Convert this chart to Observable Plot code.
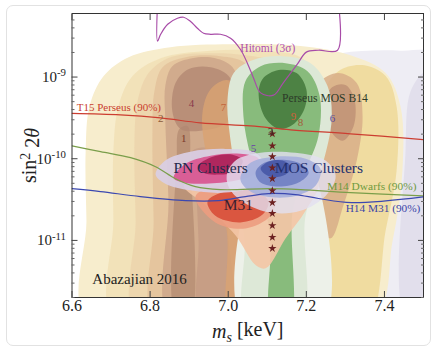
<!DOCTYPE html>
<html><head><meta charset="utf-8">
<script src="https://cdn.jsdelivr.net/npm/d3@7"></script>
<script src="https://cdn.jsdelivr.net/npm/@observablehq/plot@0.6"></script>
<style>
body{margin:0;background:#fff;}
#wrap{position:relative;width:438px;height:351px;overflow:hidden;background:#fff;}
#card{position:absolute;left:6px;top:5px;width:423px;height:339px;border:1px solid #e2e2e2;border-radius:7px;pointer-events:none;}
</style></head><body><div id="wrap"><div id="card"></div></div>
<script>
// ---- contour regions: [m_s (keV), sin^2 2theta] ----
const lavenderOuter = [[7.057,1e-12],[7.057,1.25e-10],[7.088,5.9e-10],[7.160,1.36e-9],[7.288,1.96e-9],[7.441,2.1e-9],[7.543,1.8e-9],[7.543,1e-12]];
const lavenderEdge = [[7.459,1e-12],[7.454,1.25e-10],[7.467,6.7e-10],[7.505,1.18e-9],[7.543,1.25e-9],[7.543,1e-12]];
const yellow1 = [[6.642,1e-12],[6.637,1.75e-11],[6.635,1.25e-10],[6.645,4.4e-10],[6.681,1.03e-9],[6.745,1.75e-9],[6.852,2.32e-9],[7.006,2.52e-9],[7.185,2.4e-9],[7.313,1.85e-9],[7.403,1.12e-9],[7.441,4.4e-10],[7.446,7.1e-11],[7.421,1e-11],[7.364,1e-12]];
const yellow2 = [[6.711,1e-12],[6.706,1.75e-11],[6.706,1.25e-10],[6.719,4.4e-10],[6.755,1.03e-9],[6.827,1.7e-9],[6.955,2.1e-9],[7.083,2.1e-9],[7.185,1.75e-9],[7.231,8.9e-10],[7.231,3.1e-11],[7.185,1e-12]];
const yellowRight = [[7.241,1e-12],[7.236,1.32e-11],[7.231,1.25e-10],[7.241,5.9e-10],[7.282,1.18e-9],[7.344,1.4e-9],[7.403,1.03e-9],[7.431,4.4e-10],[7.431,7.1e-11],[7.403,1.32e-11],[7.356,1e-12]];
const tan3 = [[6.768,1e-12],[6.763,1.75e-11],[6.760,1.66e-10],[6.768,5.1e-10],[6.796,1.12e-9],[6.852,1.75e-9],[6.955,1.96e-9],[7.044,1.85e-9],[7.121,1.48e-9],[7.160,6.7e-10],[7.160,1e-12]];
const tan4 = [[6.814,1e-12],[6.809,1.75e-11],[6.806,2.2e-10],[6.811,6.7e-10],[6.832,1.32e-9],[6.891,1.75e-9],[6.980,1.8e-9],[7.044,1.48e-9],[7.088,6.7e-10],[7.088,1e-12]];
const brown5 = [[6.852,1e-12],[6.847,3.1e-11],[6.839,2.9e-10],[6.839,7.8e-10],[6.857,1.36e-9],[6.908,1.7e-9],[6.967,1.7e-9],[7.011,1.32e-9],[7.031,6.7e-10],[7.039,1.66e-10],[7.039,1e-12]];
const strip1 = [[6.868,1e-12],[6.868,9.5e-11],[6.875,2.32e-10],[6.896,2.5e-10],[6.903,9.5e-11],[6.901,1e-12]];
const brown4 = [[6.857,3.8e-10],[6.865,8.45e-10],[6.898,1.25e-9],[6.955,1.32e-9],[7.001,1.03e-9],[7.019,5.1e-10],[6.996,2.75e-10],[6.929,2.2e-10],[6.878,2.32e-10]];
const brownBand = [[6.929,1e-12],[6.924,1e-11],[6.916,5.4e-11],[6.908,1.25e-10],[6.967,1.25e-10],[7.001,1e-11],[7.006,1e-12]];
const orange7 = [[7.001,1e-12],[6.996,1.32e-11],[6.942,1.25e-10],[6.934,3.64e-10],[6.955,7.1e-10],[6.996,9.2e-10],[7.031,7.1e-10],[7.047,2.9e-10],[7.042,3.1e-11],[7.039,1e-12]];
const tan6 = [[7.200,7.1e-11],[7.203,3.8e-10],[7.231,8.45e-10],[7.282,1.12e-9],[7.329,8.45e-10],[7.344,3.3e-10],[7.329,9.5e-11],[7.295,2.7e-11],[7.262,1.06e-11],[7.231,1.52e-11],[7.208,3.1e-11]];
const brown6 = [[7.249,5.1e-10],[7.267,7.55e-10],[7.300,8.0e-10],[7.323,5.4e-10],[7.321,2.5e-10],[7.293,1.66e-10],[7.262,2.2e-10]];
const perseusBase = [[7.039,1e-12],[7.044,3.1e-11],[7.108,1.25e-10],[7.185,1.25e-10],[7.241,3.1e-11],[7.241,1e-12]];
const perseus3 = [[7.047,1e-12],[7.042,1e-11],[7.026,4.1e-11],[7.006,1.66e-10],[6.998,5.1e-10],[7.014,1.12e-9],[7.062,1.61e-9],[7.139,1.8e-9],[7.211,1.48e-9],[7.254,7.8e-10],[7.265,3.1e-10],[7.241,8.2e-11],[7.198,2.0e-11],[7.185,1e-12]];
const perseus2 = [[7.111,1e-12],[7.108,1e-11],[7.088,3.5e-11],[7.057,1.09e-10],[7.039,3.3e-10],[7.044,8.9e-10],[7.083,1.36e-9],[7.147,1.48e-9],[7.203,1.18e-9],[7.234,5.9e-10],[7.231,1.9e-10],[7.198,7.1e-11],[7.165,2.3e-11],[7.157,1e-12]];
const perseus1 = [[7.078,5.9e-10],[7.088,9.5e-10],[7.129,1.22e-9],[7.175,1.12e-9],[7.200,7.1e-10],[7.195,4.07e-10],[7.165,2.6e-10],[7.129,2.32e-10],[7.096,3.1e-10]];
const m31Outer = [[6.886,4.7e-11],[6.929,6.2e-11],[7.031,7.1e-11],[7.160,6.75e-11],[7.231,5.1e-11],[7.198,2.3e-11],[7.147,1.06e-11],[7.096,4.56e-12],[7.070,5.0e-12],[7.019,1.15e-11],[6.942,2.7e-11]];
const m31Mid = [[6.916,3.44e-11],[6.967,4.56e-11],[7.057,4.56e-11],[7.121,3.5e-11],[7.108,2.0e-11],[7.044,1.4e-11],[6.967,1.66e-11]];
const m31Core = [[6.947,2.99e-11],[6.993,3.96e-11],[7.070,3.96e-11],[7.103,2.99e-11],[7.088,2.07e-11],[7.031,1.66e-11],[6.967,2.0e-11]];
const pnOuter = [[6.814,6.4e-11],[6.839,9.5e-11],[6.903,1.22e-10],[6.993,1.32e-10],[7.070,1.18e-10],[7.096,7.55e-11],[7.070,4.7e-11],[6.993,3.85e-11],[6.903,4.1e-11],[6.839,4.95e-11]];
const pnMid = [[6.860,5.86e-11],[6.891,8.7e-11],[6.955,1.09e-10],[7.031,1.15e-10],[7.078,1.0e-10],[7.070,6.75e-11],[7.019,5.4e-11],[6.942,4.95e-11],[6.886,5.1e-11]];
const pnCore = [[6.924,8.2e-11],[6.960,1.06e-10],[7.011,1.12e-10],[7.037,9.5e-11],[7.021,7.1e-11],[6.975,6.4e-11],[6.937,6.75e-11]];
const mosOuter = [[6.996,6.2e-11],[7.019,9.5e-11],[7.083,1.18e-10],[7.172,1.18e-10],[7.249,9.5e-11],[7.275,6.2e-11],[7.249,3.5e-11],[7.185,2.3e-11],[7.108,2.19e-11],[7.044,2.83e-11],[7.006,4.1e-11]];
const mosMid = [[7.031,5.7e-11],[7.057,8.9e-11],[7.121,1.06e-10],[7.198,1.0e-10],[7.236,7.55e-11],[7.224,4.7e-11],[7.172,3.5e-11],[7.096,3.44e-11],[7.052,4.1e-11]];
const mosInner = [[7.070,6.75e-11],[7.088,8.7e-11],[7.134,9.7e-11],[7.185,8.7e-11],[7.206,6.75e-11],[7.180,5.1e-11],[7.129,4.56e-11],[7.083,5.1e-11]];
const mosCore = [[7.083,7.55e-11],[7.103,9.2e-11],[7.139,9.5e-11],[7.160,7.98e-11],[7.147,6.4e-11],[7.108,6.0e-11]];

// ---- limit lines ----
const t15Mass = [6.6,6.724,6.827,6.929,7.057,7.16,7.313,7.503];
const t15Mix  = [3.59e-10,3.44e-10,3.16e-10,2.75e-10,2.52e-10,2.26e-10,2.02e-10,1.71e-10];
const m14Mass = [6.6,6.673,6.750,6.814,6.865,6.916,6.980,7.108,7.185,7.313,7.503];
const m14Mix  = [1.44e-10,1.22e-10,1.03e-10,7.98e-11,5.7e-11,4.56e-11,4.19e-11,4.3e-11,4.19e-11,3.85e-11,3.5e-11];
const h14Mass = [6.6,6.673,6.775,6.891,6.975,7.044,7.103,7.172,7.231,7.316,7.503];
const h14Mix  = [4.3e-11,3.96e-11,3.44e-11,3.07e-11,3.07e-11,3.44e-11,3.74e-11,3.64e-11,3.26e-11,2.9e-11,3.44e-11];
const hitomiMass = [6.819,6.819,6.827,6.845,6.870,6.886,6.903,6.921,6.937,6.955,6.980,7.006,7.031,7.049,7.065,7.083,7.116,7.141,7.177,7.2,7.231,7.28,7.282];
const hitomiMix  = [8e-9,2.75e-9,3.34e-9,4.43e-9,5.25e-9,5.4e-9,4.82e-9,3.96e-9,3.44e-9,3.34e-9,3.34e-9,2.99e-9,2.19e-9,1.48e-9,9.7e-10,6.4e-10,6.0e-10,8.5e-10,1.44e-9,2.02e-9,2.13e-9,2.13e-9,8e-9];

// ---- stars ----
const starMass = 7.113;
const starMix = [2.02e-10,1.44e-10,1.06e-10,7.76e-11,5.7e-11,4.07e-11,2.9e-11,2.14e-11,1.52e-11,1.09e-11,7.98e-12];

// ---- number labels ----
const numText = ["1","2","4","7","5","6","9","8","3"];
const numMass = [6.886,6.827,6.906,6.988,7.065,7.267,7.167,7.185,7.108];
const numMix  = [1.75e-10,3.1e-10,4.8e-10,4.2e-10,1.32e-10,3.1e-10,3.3e-10,2.75e-10,2.13e-10];

// ---- text labels ----
const textLabels = ["T15 Perseus (90%)","Hitomi (3σ)","Perseus MOS B14","PN Clusters","MOS Clusters","M31","M14 Dwarfs (90%)","H14 M31 (90%)","Abazajian 2016"];
const textMass = [6.612,7.031,7.138,6.955,7.232,7.026,7.482,7.492,6.652];
const textMix  = [4.2e-10,2.26e-9,5.55e-10,7.76e-11,7.76e-11,2.7e-11,4.56e-11,2.46e-11,3.34e-12];

const xTicks = [6.6,6.8,7.0,7.2,7.4];
const yMajor = [1e-11,1e-10,1e-9];
const yMinor = [2e-12,3e-12,4e-12,5e-12,6e-12,7e-12,8e-12,9e-12,2e-11,3e-11,4e-11,5e-11,6e-11,7e-11,8e-11,9e-11,2e-10,3e-10,4e-10,5e-10,6e-10,7e-10,8e-10,9e-10,2e-9,3e-9,4e-9,5e-9];

// ---- marks ----
const X = d => d[0], Y = d => d[1];
const region = (pts, fill, op) => Plot.line(pts, {x: X, y: Y, fill, fillOpacity: op, stroke: "none", curve: "catmull-rom-closed", clip: true});
const zip = (a, b) => a.map((v, i) => [v, b[i]]);
const limit = (m, s, stroke, curve = "catmull-rom") => Plot.line(zip(m, s), {x: X, y: Y, stroke, strokeWidth: 1.2, curve, clip: true});

const numColors = ["#7b3b2b","#8b5a3a","#8a3c4c","#c2643c","#6a3fa8","#5a4a9e","#d0603a","#a35a3a","#3a2a2a"];
const textStyle = [
  {fill:"#c9402f", size:11, anchor:"start"},
  {fill:"#b04fb0", size:11.5, anchor:"start"},
  {fill:"#2c3a28", size:11.6, anchor:"start"},
  {fill:"#232a4a", size:15.5, anchor:"middle"},
  {fill:"#23306e", size:15.5, anchor:"middle"},
  {fill:"#3a2030", size:15.5, anchor:"middle"},
  {fill:"#6e9a3e", size:11.4, anchor:"end"},
  {fill:"#3b46a8", size:11.3, anchor:"end"},
  {fill:"#222222", size:15, anchor:"start"}
];

const marks = [
  region(lavenderOuter, "#eeedf4", 1),
  region(lavenderEdge, "#e2dfec", 1),
  region(yellow1, "#f7edcd", 1),
  region(yellow2, "#f1dfb5", 0.85),
  region(yellowRight, "#eed99b", 0.9),
  region(tan3, "#ecd4ab", 0.85),
  region(tan4, "#e3c29b", 0.85),
  region(brown5, "#cca488", 0.8),
  region(strip1, "#a97f68", 0.55),
  region(brownBand, "#c09680", 0.6),
  region(brown4, "#b08672", 0.75),
  region(orange7, "#d9a272", 0.8),
  region(tan6, "#d8ae88", 0.85),
  region(brown6, "#b98a70", 0.7),
  region(perseusBase, "#edf1e9", 1),
  region(perseus3, "#dde8d7", 1),
  region(perseus2, "#88bb7c", 1),
  region(perseus1, "#4d8244", 1),
  region(m31Outer, "#f3c6a6", 0.92),
  region(m31Mid, "#ec9c80", 0.9),
  region(m31Core, "#d74e38", 0.9),
  region(pnOuter, "#d9cee5", 0.92),
  region(pnMid, "#d9558f", 0.92),
  region(pnCore, "#a81d55", 0.85),
  region(mosOuter, "#e2e0f0", 0.8),
  region(mosMid, "#a7b1dc", 0.92),
  region(mosInner, "#7080c2", 0.92),
  region(mosCore, "#4757a5", 0.9),
  limit(t15Mass, t15Mix, "#cc3d30"),
  limit(m14Mass, m14Mix, "#7a9e4a"),
  limit(h14Mass, h14Mix, "#3b48b0"),
  limit(hitomiMass, hitomiMix, "#a84ca8", "catmull-rom"),
  Plot.dot(starMix, {x: () => starMass, y: d => d, symbol: "star", r: 2.6, fill: "#6b2020", stroke: "none"}),
  ...numText.map((t, i) => Plot.text([t], {x: () => numMass[i], y: () => numMix[i], text: d => d, fill: numColors[i], fontSize: 11})),
  ...textLabels.map((t, i) => Plot.text([t], {x: () => textMass[i], y: () => textMix[i], text: d => d, fill: textStyle[i].fill, fontSize: textStyle[i].size, textAnchor: textStyle[i].anchor})),
  Plot.frame({stroke: "#333", strokeWidth: 1}),
  Plot.axisX(xTicks, {anchor: "bottom", tickSize: -6, tickPadding: 8, tickFormat: d => d.toFixed(1), fontSize: 16, label: "ms [keV]", labelAnchor: "center", labelOffset: 40, stroke: "#444"}),
  Plot.axisX(xTicks, {anchor: "top", tickSize: -6, tickFormat: () => "", label: null, stroke: "#444"}),
  Plot.axisY(yMajor, {anchor: "left", tickSize: -6, tickPadding: 12, tickFormat: d => String(Math.round(Math.log10(d))), fontSize: 15, label: "sin2 2θ", labelAnchor: "center", labelOffset: 50, stroke: "#444"}),
  Plot.axisY(yMinor, {anchor: "left", tickSize: -3, tickFormat: () => "", label: null, stroke: "#666"}),
  Plot.axisY(yMajor, {anchor: "right", tickSize: -6, tickFormat: () => "", label: null, stroke: "#444"}),
  Plot.axisY(yMinor, {anchor: "right", tickSize: -3, tickFormat: () => "", label: null, stroke: "#666"})
];

const chart = Plot.plot({
  width: 438, height: 351,
  marginLeft: 71.5, marginRight: 15, marginTop: 13, marginBottom: 54,
  x: {domain: [6.6, 7.5]},
  y: {type: "log", domain: [2e-12, 6e-9]},
  style: {fontFamily: "'Liberation Serif', 'DejaVu Serif', serif", background: "transparent", color: "#222"},
  marks
});
document.getElementById("wrap").prepend(chart);

// typographic touches on axis texts
const svg = d3.select(chart);
svg.selectAll('g[aria-label="y-axis tick label"] text').each(function() {
  const t = d3.select(this); const e = t.text(); if (!e) return;
  t.text("10"); t.append("tspan").attr("dy", "-0.5em").attr("font-size", "0.72em").text(e);
});
const yl = svg.select('g[aria-label="y-axis label"] text');
if (!yl.empty()) {
  yl.text("").attr("font-size", 20);
  yl.append("tspan").text("sin");
  yl.append("tspan").attr("dy", "-0.45em").attr("font-size", "0.7em").text("2");
  yl.append("tspan").attr("dy", "0.45em").text(" 2");
  yl.append("tspan").attr("font-style", "italic").text("θ");
}
const xl = svg.select('g[aria-label="x-axis label"] text');
if (!xl.empty()) {
  xl.text("").attr("font-size", 20);
  xl.append("tspan").attr("font-style", "italic").text("m");
  xl.append("tspan").attr("dy", "0.3em").attr("font-size", "0.7em").attr("font-style", "italic").text("s");
  xl.append("tspan").attr("dy", "-0.3em").text(" [keV]");
}
</script></body></html>
